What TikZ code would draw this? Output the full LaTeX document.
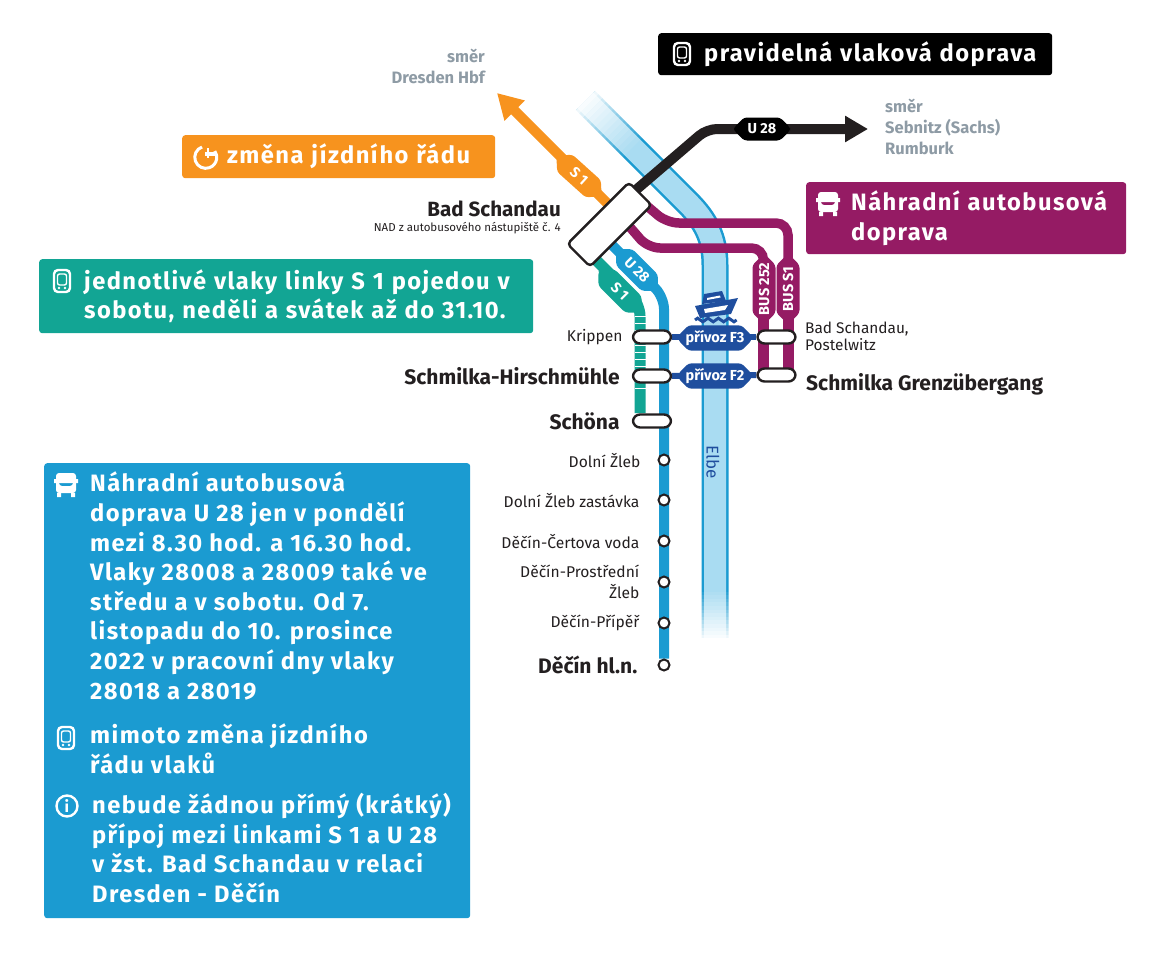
\documentclass[tikz,border=0pt]{standalone}
\usepackage{fontspec}
\setmainfont{Fira Sans}
\newfontfamily\wideface[LetterSpace=6]{Fira Sans}
\usetikzlibrary{arrows.meta,positioning,backgrounds,shapes.misc,calc}
\definecolor{cblue}{HTML}{1B9BD1}
\definecolor{criver}{HTML}{A9DCF2}
\definecolor{cgreen}{HTML}{12A594}
\definecolor{cpurple}{HTML}{951B64}
\definecolor{corange}{HTML}{F7931E}
\definecolor{cferry}{HTML}{1F4E9E}
\definecolor{cgrey}{HTML}{8E9BA5}
\definecolor{cdark}{HTML}{231F20}
\tikzset{
  infobox/.style={rounded corners=3pt, anchor=north west, text=white, align=left,
                  font=\wideface\bfseries\fontsize{23.7}{29.6}\selectfont},
  stationbox/.style={draw=cdark, fill=white, line width=2.4pt, rounded corners=7pt,
                     minimum width=38pt, minimum height=13pt, inner sep=0pt},
  halt/.style={circle, draw=cdark, fill=white, line width=2pt, minimum size=11pt, inner sep=0pt},
  linetag/.style={chamfered rectangle, chamfered rectangle xsep=5pt, chamfered rectangle ysep=5pt,
                  rounded corners=3pt, minimum height=23pt, inner sep=0pt, text=white,
                  font=\bfseries\fontsize{14.5}{14.5}\selectfont},
  stopname/.style={text=cdark, inner sep=0pt, align=right, font=\fontsize{15.6}{21}\selectfont},
  stopbig/.style={text=cdark, inner sep=0pt, align=right, font=\bfseries\fontsize{21}{22}\selectfont},
  dirname/.style={text=cgrey, inner sep=0pt, font=\bfseries\fontsize{16.5}{21}\selectfont},
  route/.style={line width=#1, rounded corners=12pt},
  trainicon/.pic={
    \draw[white, line width=2.4pt, rounded corners=4pt] (-8,-11) rectangle (8,11);
    \draw[white, line width=1.4pt, rounded corners=2pt] (-4.5,-7) rectangle (4.5,4);
    \fill[white] (-3,7) circle (1.3pt) (3,7) circle (1.3pt);
  },
  busicon/.pic={
    \fill[white, even odd rule, rounded corners=3pt] (-10,-12) rectangle (10,8)
      (-7,-6) rectangle (7,1);
    \fill[white] (-12,-6) rectangle (12,-2) (-9,8) rectangle (-5,12) (5,8) rectangle (9,12);
  },
  infoicon/.pic={
    \draw[white, line width=2.4pt] (0,0) circle (10.5pt);
    \node[text=white, inner sep=0pt, font=\bfseries\fontsize{16}{16}\selectfont] {i};
  },
  changeicon/.pic={
    \draw[white, line width=3pt] (-3,-10) arc[start angle=110, end angle=395, radius=11pt];
    \draw[white, line width=2.4pt] (3,-9) -- (3,1);
    \fill[white] (0,-5) rectangle (11,-1);
  },
}
\begin{document}
\begin{tikzpicture}[x=1pt, y=-1pt]
  \useasboundingbox (0,0) rectangle (1171,977);
  % stations
  \node[stationbox, minimum width=87pt, minimum height=32pt, rounded corners=4pt, rotate=45] (schandau) at (609.5,224.5) {};
  \coordinate (bsS1) at (608,204);
  \coordinate (bsU28) at (630,195);
  \coordinate (bsBusA) at (640,200);
  \coordinate (bsBusB) at (622,218);
  \coordinate (bsU28s) at (608,241);
  \coordinate (bsS1s) at (592,256);
  \node[stationbox] (krippen) at (652,337) {};
  \node[stationbox] (hirsch) at (652,376) {};
  \node[stationbox] (schona) at (652,421) {};
  \node[stationbox] (postelwitz) at (776.5,337) {};
  \node[stationbox] (grenz) at (776.5,375) {};
  \coordinate (dresden) at (497,93);
  \coordinate (sebnitz) at (868,129);
  \coordinate (kinkU) at (707,129);
  \coordinate (elbeN) at (585,100);
  \coordinate (elbeS) at (715,640);
  \node[halt] (zleb) at (664,460) {};
  \node[halt] (zlebz) at (664,500) {};
  \node[halt] (cert) at (664,541) {};
  \node[halt] (prost) at (664,582) {};
  \node[halt] (pripe) at (664,623) {};
  \node[halt] (decin) at (664,665) {};
  % lines
  \begin{scope}[on background layer]
  \draw[cblue, line width=27pt] (elbeN) -- (688,203) .. controls (705,220) and (715,238) .. (715,265) -- (elbeS);
  \draw[criver, line width=22pt] (elbeN) -- (688,203) .. controls (705,220) and (715,238) .. (715,265) -- (elbeS);
  \foreach \t [evaluate=\t as \op using 1-\t/14] in {0,...,13} {
    \draw[white, line width=33pt, opacity=\op] ($(elbeN)+(3.6*\t-3,3.6*\t-3)$) -- ++(3.6,3.6);
    \draw[white, line width=33pt, opacity=\op] ($(elbeS)+(0,-3.6*\t+2)$) -- ++(0,-3.6);
  }
  \draw[corange, line width=10pt, -{Triangle[length=25pt,width=27pt]}] (bsS1) -- (dresden);
  \draw[cdark, line width=10pt, -{Triangle[length=23pt,width=25pt]}, rounded corners=10pt] (bsU28) -- (kinkU) -- (sebnitz);
  \draw[cpurple, route=9.5pt] (bsBusA) -- (667,223) -- (788,223) -- (788,290);
  \draw[cpurple, route=9.5pt] (bsBusB) -- (648,248) -- (763.5,248) -- (763.5,290);
  \draw[cpurple, line width=11pt] (763.5,300) -- (763.5,375) (788,300) -- (788,375);
  \draw[cblue, route=10pt] (bsU28s) -- (664,297) -- (decin);
  \draw[cgreen, route=11pt] (bsS1s) -- (640,304) -- (640,413);
  \draw[white, line width=11pt, dash pattern=on 0.8pt off 6.4pt] (640,316) -- (640,392);
  \draw[cferry, line width=6pt] (krippen) -- (postelwitz);
  \draw[cferry, line width=6pt] (hirsch) -- (grenz);
  \end{scope}
  \node[text=cferry, rotate=-90, inner sep=0pt, font=\fontsize{17}{17}\selectfont] (elbe) at (713,462) {Elbe};
  % line labels
  \node[linetag, fill=corange, rotate=-42, minimum width=58pt] (tagS1a) at (579,176) {S 1};
  \node[linetag, fill=black, minimum width=56pt] (tagU28a) at (762,129) {U 28};
  \node[linetag, fill=cblue, rotate=-45, minimum width=56pt] (tagU28b) at (637,270) {U 28};
  \node[linetag, fill=cgreen, rotate=-45, minimum width=58pt] (tagS1b) at (620,291) {S 1};
  \node[linetag, fill=cpurple, rotate=90, minimum width=68pt] (tagBus252) at (764,289) {BUS 252};
  \node[linetag, fill=cpurple, rotate=90, minimum width=68pt] (tagBusS1) at (788,289) {BUS S1};
  \node[linetag, fill=cferry, minimum width=73pt] (ferryF3) at (715,338) {přívoz F3};
  \node[linetag, fill=cferry, minimum width=73pt] (ferryF2) at (715,376) {přívoz F2};
  % ferry
  \fill[cferry] (695,306) -- (738,298) -- (731,314) -- (700,318) -- cycle;
  \fill[cferry] (702,304) -- (704,294) -- (722,291) -- (726,301) -- cycle;
  \fill[white] (707,298) -- (720,295.5) -- (720.5,297.5) -- (707,300) -- cycle;
  \fill[white] (704,309) -- (728,305) -- (725,310) -- (705,313) -- cycle;
  \draw[cferry, line width=3pt] (695,320) \foreach \i in {0,...,3} {sin ++(2.6,-1.8) cos ++(2.6,1.8) sin ++(2.6,1.8) cos ++(2.6,-1.8)};
  % stop names
  \node[stopname, left=9pt of krippen] (nkrippen) {Krippen};
  \node[stopbig, left=12pt of hirsch] (nhirsch) {Schmilka-Hirschmühle};
  \node[stopbig, left=12pt of schona] (nschona) {Schöna};
  \node[stopname, left=17pt of zleb] (nzleb) {Dolní Žleb};
  \node[stopname, left=18pt of zlebz] (nzlebz) {Dolní Žleb zastávka};
  \node[stopname, left=18pt of cert] (ncert) {Děčín-Čertova voda};
  \node[stopname, left=18pt of prost] (nprost) {Děčín-Prostřední\\Žleb};
  \node[stopname, left=18pt of pripe] (npripe) {Děčín-Přípěř};
  \node[stopbig, left=20pt of decin] (ndecin) {Děčín hl.n.};
  \node[stopname, align=left, anchor=west, font=\fontsize{15.4}{17.5}\selectfont] (npostel) at (805,336.5) {Bad Schandau,\\Postelwitz};
  \node[stopbig, anchor=west] (ngrenz) at (806,384) {Schmilka Grenzübergang};
  \node[stopbig, anchor=east, font=\bfseries\fontsize{20.6}{22}\selectfont] (nschandau) at (561,209) {Bad Schandau};
  \node[stopname, font=\fontsize{11.5}{11.5}\selectfont, below=5pt of nschandau.south east, anchor=north east] (nnad) {NAD z autobusového nástupiště č. 4};
  \node[dirname, align=right, anchor=north east] (ndresden) at (485,49) {směr\\Dresden Hbf};
  \node[dirname, align=left, anchor=north west] (nsebnitz) at (885,99) {směr\\Sebnitz (Sachs)\\Rumburk};
  % boxes
  \node[infobox, fill=black, minimum width=394pt, minimum height=42pt, text width=394pt, inner xsep=0pt, inner ysep=6pt] (legrail) at (658,33) {\hspace*{46pt}pravidelná vlaková doprava};
  \node[infobox, fill=corange, minimum width=313pt, minimum height=43pt, text width=313pt, inner xsep=0pt, inner ysep=6pt] (legchange) at (182,135) {\hspace*{45pt}změna jízdního řádu};
  \node[infobox, fill=cpurple, minimum width=320pt, minimum height=72pt, text width=320pt, inner xsep=0pt, inner ysep=6pt] (legbus) at (806,182) {\hspace*{45pt}Náhradní autobusová\\\hspace*{45pt}doprava};
  \node[infobox, fill=cgreen, minimum width=494pt, minimum height=74pt, text width=494pt, inner xsep=0pt, inner ysep=7pt] (legs1) at (39,259) {\hspace*{45pt}jednotlivé vlaky linky S 1 pojedou v\\\hspace*{45pt}sobotu, neděli a svátek až do 31.10.};
  \node[infobox, fill=cblue, minimum width=426pt, minimum height=455pt, inner sep=0pt] (legu28) at (44,463) {};
  \node[infobox, inner sep=0pt] (u28a) at (90,472) {Náhradní autobusová\\doprava U 28 jen v pondělí\\mezi 8.30 hod. a 16.30 hod.\\Vlaky 28008 a 28009 také ve\\středu a v sobotu. Od 7.\\listopadu do 10. prosince\\2022 v pracovní dny vlaky\\28018 a 28019};
  \node[infobox, inner sep=0pt] (u28b) at (90,724) {mimoto změna jízdního\\řádu vlaků};
  \node[infobox, inner sep=0pt] (u28c) at (92,793) {nebude žádnou přímý (krátký)\\přípoj mezi linkami S 1 a U 28\\v žst. Bad Schandau v relaci\\Dresden - Děčín};
  % icons
  \pic at (682,54) {trainicon};
  \pic at (205,157) {changeicon};
  \pic at (828,204) {busicon};
  \pic at (62,281) {trainicon};
  \pic at (66,485) {busicon};
  \pic at (66,738) {trainicon};
  \pic at (67,806) {infoicon};
\end{tikzpicture}
\end{document}
